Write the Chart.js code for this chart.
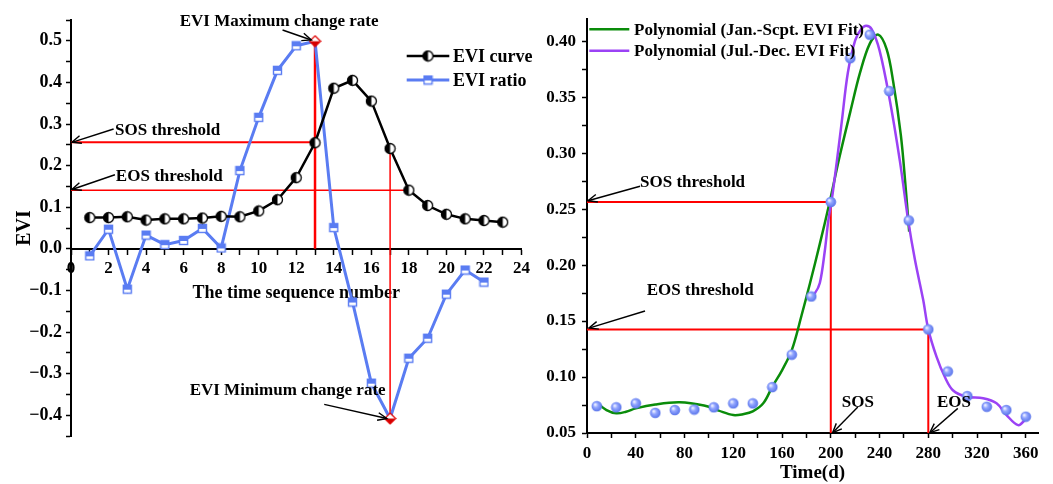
<!DOCTYPE html>
<html>
<head>
<meta charset="utf-8">
<script src="https://cdn.jsdelivr.net/npm/chart.js@4.4.0/dist/chart.umd.min.js"></script>
<style>
  body { margin: 0; background: #fff; width: 1053px; height: 484px; overflow: hidden; position: relative; }
  #left { position: absolute; left: 0; top: 0; }
  #right { position: absolute; left: 535px; top: 0; }
</style>
</head>
<body>
<canvas id="left" width="535" height="484"></canvas>
<canvas id="right" width="518" height="484"></canvas>
<script>
// ---- left panel: EVI curve and EVI ratio by time sequence number ----
const seqNumbers = [1, 2, 3, 4, 5, 6, 7, 8, 9, 10, 11, 12, 13, 14, 15, 16, 17, 18, 19, 20, 21, 22, 23];
const eviCurve = [0.075, 0.075, 0.077, 0.069, 0.072, 0.072, 0.074, 0.078, 0.077, 0.091, 0.118, 0.171,
  0.255, 0.386, 0.405, 0.355, 0.241, 0.141, 0.104, 0.083, 0.072, 0.068, 0.064];
const ratioSeq = [1, 2, 3, 4, 5, 6, 7, 8, 9, 10, 11, 12, 13, 14, 15, 16, 17, 18, 19, 20, 21, 22];
const eviRatio = [-0.017, 0.047, -0.097, 0.033, 0.010, 0.020, 0.049, 0.002, 0.188, 0.316, 0.429, 0.488,
  0.499, 0.051, -0.128, -0.323, -0.408, -0.263, -0.215, -0.109, -0.051, -0.080];
const sosThresholdSeq = 0.256;
const eosThresholdSeq = 0.141;
const maxRateSeq = 13;
const minRateSeq = 17;
const eosCrossSeq = 17.85;

// ---- right panel: observed EVI and the two polynomial fits ----
const obsDays = [8, 24, 40, 56, 72, 88, 104, 120, 136, 152, 168, 184, 200, 216, 232, 248, 264, 280, 296, 312, 328, 344, 360];
const obsEvi = [0.074, 0.073, 0.0765, 0.068, 0.0705, 0.071, 0.073, 0.0765, 0.0765, 0.091, 0.120, 0.172,
  0.2565, 0.385, 0.406, 0.3556, 0.240, 0.1426, 0.105, 0.083, 0.0735, 0.0705, 0.0646];
const fitJanSepDays = [8, 16, 24, 32, 40, 56, 76, 96, 108, 120, 128, 136, 144.6, 152, 160, 168, 176, 183, 191,
  199, 207, 216, 224, 232, 238.9, 245.8, 251.2, 257.5, 261, 264.3];
const fitJanSepEvi = [0.077, 0.0705, 0.0676, 0.069, 0.072, 0.0755, 0.0774, 0.0745, 0.070, 0.066, 0.0668, 0.0693, 0.0765, 0.0913,
  0.106, 0.124, 0.155, 0.184, 0.219, 0.256, 0.296, 0.337, 0.372, 0.398, 0.406, 0.393, 0.364, 0.316, 0.275, 0.23];
const fitJulDecDays = [183, 187, 191, 195, 198, 201, 205, 209, 214, 220, 225, 229, 233.5, 240, 248.5, 256.7, 263.5, 269,
  275.8, 280, 286.8, 293.6, 300.4, 311.4, 325, 336, 344.2, 353.7, 359.2, 362];
const fitJulDecEvi = [0.172, 0.175, 0.184, 0.212, 0.240, 0.260, 0.293, 0.328, 0.372, 0.401, 0.411, 0.414, 0.411, 0.392, 0.347,
  0.293, 0.24, 0.205, 0.169, 0.1426, 0.118, 0.100, 0.088, 0.0824, 0.081, 0.0765, 0.066, 0.057, 0.0616, 0.066];
const sosThreshold = 0.2565;
const eosThreshold = 0.1426;
const sosDay = 200;
const eosDay = 280;

const serif = '"Liberation Serif", "Times New Roman", serif';
const font = (size) => ({ family: serif, size: size, weight: 'bold' });
const blue = '#5a7cf2';
const pts = (xs, ys) => xs.map((x, i) => ({ x: x, y: ys[i] }));

// little marker images, like the half-filled symbols of the original
function marker(size, draw) {
  const c = document.createElement('canvas');
  c.width = size; c.height = size;
  draw(c.getContext('2d'), size / 2);
  return c;
}
const halfCircle = marker(13, (g, c) => {
  g.beginPath(); g.arc(c, c, 5, 0, Math.PI * 2); g.fillStyle = '#fff'; g.fill();
  g.beginPath(); g.arc(c, c, 5, Math.PI / 2, Math.PI * 1.5); g.closePath(); g.fillStyle = '#000'; g.fill();
  g.beginPath(); g.arc(c, c, 5, 0, Math.PI * 2); g.lineWidth = 1.3; g.strokeStyle = '#000'; g.stroke();
});
const halfSquare = marker(11, (g, c) => {
  g.fillStyle = '#fff'; g.fillRect(1.5, 1.5, 8, 8);
  g.fillStyle = blue; g.fillRect(1.5, 1.5, 8, 4.5);
  g.lineWidth = 1.4; g.strokeStyle = blue; g.strokeRect(1.5, 1.5, 8, 8);
});
const redDiamond = marker(13, (g, c) => {
  g.beginPath(); g.moveTo(c, 1); g.lineTo(12, c); g.lineTo(c, 12); g.lineTo(1, c); g.closePath();
  g.fillStyle = '#fff'; g.fill();
  g.beginPath(); g.moveTo(1, c); g.lineTo(12, c); g.lineTo(c, 12); g.closePath(); g.fillStyle = '#d40000'; g.fill();
  g.beginPath(); g.moveTo(c, 1); g.lineTo(12, c); g.lineTo(c, 12); g.lineTo(1, c); g.closePath();
  g.lineWidth = 1.2; g.strokeStyle = '#e00000'; g.stroke();
});
const ball = marker(12, (g, c) => {
  const gr = g.createRadialGradient(4.3, 4.3, 0.5, c, c, 6);
  gr.addColorStop(0, '#eef1ff'); gr.addColorStop(0.35, '#93a6ff'); gr.addColorStop(1, '#4e6be6');
  g.beginPath(); g.arc(c, c, 5.3, 0, Math.PI * 2); g.fillStyle = gr; g.fill();
});

function arrow(ctx, x1, y1, x2, y2) {
  ctx.beginPath(); ctx.moveTo(x1, y1); ctx.lineTo(x2, y2); ctx.stroke();
  const a = Math.atan2(y2 - y1, x2 - x1), L = 10, w = 0.4;
  ctx.beginPath();
  ctx.moveTo(x2 - L * Math.cos(a - w), y2 - L * Math.sin(a - w));
  ctx.lineTo(x2, y2);
  ctx.lineTo(x2 - L * Math.cos(a + w), y2 - L * Math.sin(a + w));
  ctx.stroke();
}

// texts, arrows (in data units) and the legend for one panel
function notes(id, cfg) {
  return {
    id: id,
    afterDatasetsDraw(chart) {
      const { ctx } = chart;
      const sx = chart.scales.x, sy = chart.scales.y;
      ctx.save();
      ctx.strokeStyle = '#000'; ctx.fillStyle = '#000'; ctx.lineWidth = 1.4;
      cfg.arrows.forEach(a => arrow(ctx, sx.getPixelForValue(a[0]), sy.getPixelForValue(a[1]),
        sx.getPixelForValue(a[2]), sy.getPixelForValue(a[3])));
      ctx.font = 'bold 17px ' + serif;
      ctx.textBaseline = 'middle';
      cfg.texts.forEach(t => {
        ctx.textAlign = t.align || 'left';
        ctx.fillText(t.text, sx.getPixelForValue(t.x), sy.getPixelForValue(t.y));
      });
      const lg = cfg.legend;
      ctx.font = 'bold ' + lg.size + 'px ' + serif;
      ctx.textAlign = 'left';
      lg.rows.forEach(r => {
        const ds = chart.data.datasets[r.ds];
        ctx.strokeStyle = ds.borderColor; ctx.lineWidth = ds.borderWidth;
        ctx.beginPath(); ctx.moveTo(lg.x0, r.y); ctx.lineTo(lg.x1, r.y); ctx.stroke();
        if (ds.pointStyle instanceof HTMLCanvasElement) {
          const m = ds.pointStyle;
          ctx.drawImage(m, (lg.x0 + lg.x1) / 2 - m.width / 2, r.y - m.height / 2);
        }
        ctx.fillStyle = '#000';
        ctx.fillText(ds.label, lg.tx, r.y + 1);
      });
      ctx.restore();
    }
  };
}

function redLine(data, width) {
  return { label: 'guide', data: data, borderColor: '#ff0000', borderWidth: width, pointRadius: 0, order: 5 };
}

const tickCommon = { color: '#000', autoSkip: false, maxRotation: 0 };
const gridCommon = { display: true, drawOnChartArea: false, drawTicks: true, tickLength: 5, color: '#000', tickWidth: 1.5 };
const borderCommon = { display: true, color: '#000', width: 2 };

const fmtEvi = (v) => {
  const r = Math.round(v * 100);
  if (r % 10 !== 0) return '';
  const s = (Math.abs(r) / 100).toFixed(1);
  return r < 0 ? '\u2212' + s : s;
};

new Chart(document.getElementById('left'), {
  type: 'line',
  data: {
    datasets: [
      { label: 'EVI curve', data: pts(seqNumbers, eviCurve), borderColor: '#000', borderWidth: 2.5,
        pointStyle: halfCircle, pointRadius: 5, order: 1 },
      { label: 'EVI ratio', data: pts(ratioSeq, eviRatio), borderColor: blue, borderWidth: 3,
        pointStyle: halfSquare,
        pointRadius: (c) => (c.dataIndex === maxRateSeq - 1 || c.dataIndex === minRateSeq - 1) ? 0 : 5, order: 2 },
      { label: 'rate extremes', data: [{ x: maxRateSeq, y: eviRatio[maxRateSeq - 1] }, { x: minRateSeq, y: eviRatio[minRateSeq - 1] }],
        showLine: false, pointStyle: redDiamond, pointRadius: 5, order: 0 },
      redLine([{ x: 0, y: sosThresholdSeq }, { x: maxRateSeq, y: sosThresholdSeq }], 2),
      redLine([{ x: 0, y: eosThresholdSeq }, { x: eosCrossSeq, y: eosThresholdSeq }], 1.5),
      redLine([{ x: maxRateSeq, y: eviRatio[maxRateSeq - 1] }, { x: maxRateSeq, y: 0 }], 2.5),
      redLine([{ x: minRateSeq, y: eviCurve[minRateSeq - 1] }, { x: minRateSeq, y: eviRatio[minRateSeq - 1] }], 1.5)
    ]
  },
  options: {
    responsive: false,
    animation: false,
    layout: { padding: { left: 0, right: 12, top: 20, bottom: 48 } },
    plugins: { legend: { display: false }, tooltip: { enabled: false } },
    scales: {
      x: {
        type: 'linear', min: 0, max: 24, position: { y: 0 },
        ticks: Object.assign({}, tickCommon, { stepSize: 1, padding: 5, font: font(17),
          callback: (v) => (v % 2 === 0 ? String(v) : '') }),
        grid: gridCommon, border: borderCommon,
        title: { display: true, text: 'The time sequence number', color: '#000', font: font(18), padding: { top: 0, bottom: -5 } },
        afterFit: (s) => { s.height = 50; }
      },
      y: {
        type: 'linear', min: -0.45, max: 0.55,
        ticks: Object.assign({}, tickCommon, { stepSize: 0.05, padding: 4, font: font(18), callback: fmtEvi }),
        grid: gridCommon, border: borderCommon,
        title: { display: true, text: 'EVI', color: '#000', font: font(20), padding: { top: 13, bottom: 0 } },
        afterFit: (s) => { s.width = 71; }
      }
    }
  },
  plugins: [notes('leftNotes', {
    arrows: [[2.27, 0.288, 0.05, 0.256], [2.34, 0.178, 0.05, 0.1425], [11.27, 0.526, 12.8, 0.502], [13.49, -0.374, 16.83, -0.408]],
    texts: [
      { text: 'SOS threshold', x: 2.35, y: 0.285 },
      { text: 'EOS threshold', x: 2.39, y: 0.174 },
      { text: 'EVI Maximum change rate', x: 5.79, y: 0.547 },
      { text: 'EVI Minimum change rate', x: 6.32, y: -0.341 }
    ],
    legend: { x0: 406.7, x1: 449.3, tx: 453, size: 18, rows: [{ ds: 0, y: 56 }, { ds: 1, y: 80 }] }
  })]
});

new Chart(document.getElementById('right'), {
  type: 'line',
  data: {
    datasets: [
      { label: 'Polynomial (Jan.-Scpt. EVI Fit)', data: pts(fitJanSepDays, fitJanSepEvi), borderColor: '#0a8c0a',
        borderWidth: 2.5, pointRadius: 0, tension: 0.35, order: 2 },
      { label: 'Polynomial (Jul.-Dec. EVI Fit)', data: pts(fitJulDecDays, fitJulDecEvi), borderColor: '#9b42f5',
        borderWidth: 2.5, pointRadius: 0, tension: 0.35, order: 1 },
      { label: 'EVI', data: pts(obsDays, obsEvi), showLine: false, pointStyle: ball, pointRadius: 5, order: 0 },
      redLine([{ x: 0, y: sosThreshold }, { x: sosDay, y: sosThreshold }], 2),
      redLine([{ x: sosDay, y: sosThreshold }, { x: sosDay, y: 0.05 }], 2),
      redLine([{ x: 0, y: eosThreshold }, { x: eosDay, y: eosThreshold }], 2),
      redLine([{ x: eosDay, y: eosThreshold }, { x: eosDay, y: 0.05 }], 2)
    ]
  },
  options: {
    responsive: false,
    animation: false,
    layout: { padding: { left: 0, right: 15, top: 19, bottom: 0 } },
    plugins: { legend: { display: false }, tooltip: { enabled: false } },
    scales: {
      x: {
        type: 'linear', min: 0, max: 370,
        ticks: Object.assign({}, tickCommon, { stepSize: 20, padding: 5, font: font(17), includeBounds: false,
          callback: (v) => (v % 40 === 0 ? String(v) : '') }),
        grid: gridCommon, border: borderCommon,
        title: { display: true, text: 'Time(d)', color: '#000', font: font(19), padding: { top: 0, bottom: 0 } },
        afterFit: (s) => { s.height = 51; }
      },
      y: {
        type: 'linear', min: 0.05, max: 0.42,
        ticks: Object.assign({}, tickCommon, { stepSize: 0.025, padding: 6, font: font(17), includeBounds: false,
          callback: (v) => (Math.round(v * 1000) % 50 === 0 ? v.toFixed(2) : '') }),
        grid: gridCommon, border: borderCommon,
        afterFit: (s) => { s.width = 52; }
      }
    }
  },
  plugins: [notes('rightNotes', {
    arrows: [[43.5, 0.2705, 0.8, 0.2576], [47.6, 0.159, 1.6, 0.1438], [222.2, 0.0732, 201.5, 0.0503], [304.2, 0.072, 281.3, 0.0503]],
    texts: [
      { text: 'SOS threshold', x: 43.5, y: 0.2735 },
      { text: 'EOS threshold', x: 49, y: 0.1777 },
      { text: 'SOS', x: 222.2, y: 0.077, align: 'center' },
      { text: 'EOS', x: 301, y: 0.077, align: 'center' }
    ],
    legend: { x0: 54.3, x1: 94.3, tx: 99, size: 17, rows: [{ ds: 0, y: 29.3 }, { ds: 1, y: 50.7 }] }
  })]
});
</script>
</body>
</html>
